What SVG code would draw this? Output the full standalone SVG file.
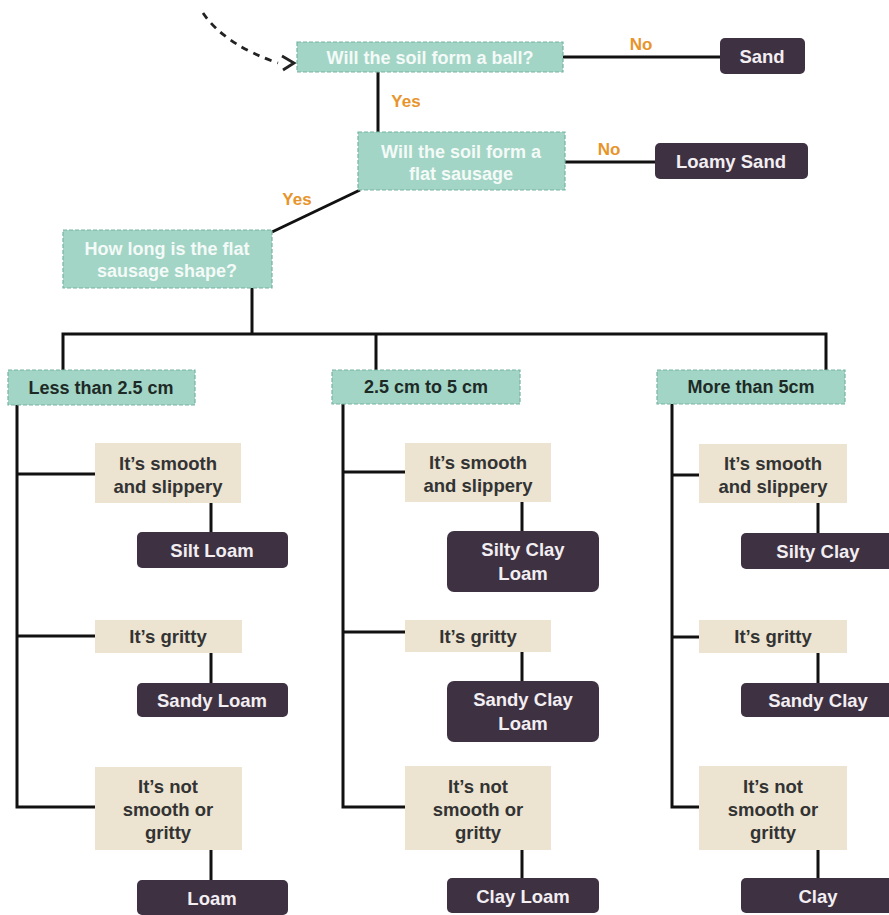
<svg xmlns="http://www.w3.org/2000/svg" width="889" height="915" viewBox="0 0 889 915">
<defs>
<style>
.q{fill:#a2d5c6;stroke:#76b4a2;stroke-width:1.2;stroke-dasharray:4 2}
.b{fill:#ece4d1}
.d{fill:#3e3142}
.ln{stroke:#111;stroke-width:3;fill:none}
text{font-family:"Liberation Sans",Arial,sans-serif;font-weight:bold;text-anchor:middle}
.qt{fill:#f4faf7;font-size:18px}
.ct{fill:#1e2a26;font-size:18px}
.bt{fill:#333;font-size:18.5px}
.dt{fill:#f2eef2;font-size:18.5px}
.lbl{fill:#e8942c;font-size:17px}
</style>
</defs>
<rect width="889" height="915" fill="#fff"/>
<g id="connectors">
<path d="M203,13 Q225,45 278,63" stroke="#222" stroke-width="2.8" fill="none" stroke-dasharray="7 6"/>
<path d="M282,56 L294,63 L283,70" stroke="#222" stroke-width="2.8" fill="none"/>
<line class="ln" x1="563" y1="57" x2="720" y2="57"/>
<line class="ln" x1="378" y1="72" x2="378" y2="132"/>
<line class="ln" x1="565" y1="162" x2="655" y2="162"/>
<line class="ln" x1="360" y1="190" x2="272" y2="232"/>
<line class="ln" x1="252" y1="288" x2="252" y2="334"/>
<polyline class="ln" points="63,372 63,334 826,334 826,372"/>
<line class="ln" x1="376" y1="334" x2="376" y2="372"/>
<polyline class="ln" points="17,405 17,807 95,807"/>
<line class="ln" x1="17" y1="474" x2="95" y2="474"/>
<line class="ln" x1="17" y1="636" x2="95" y2="636"/>
<line class="ln" x1="211" y1="503" x2="211" y2="532"/>
<line class="ln" x1="211" y1="653" x2="211" y2="683"/>
<line class="ln" x1="211" y1="850" x2="211" y2="880"/>
<polyline class="ln" points="343,404 343,807 405,807"/>
<line class="ln" x1="343" y1="472" x2="405" y2="472"/>
<line class="ln" x1="343" y1="632" x2="405" y2="632"/>
<line class="ln" x1="522" y1="502" x2="522" y2="531"/>
<line class="ln" x1="522" y1="652" x2="522" y2="681"/>
<line class="ln" x1="522" y1="850" x2="522" y2="878"/>
<polyline class="ln" points="672,404 672,807 699,807"/>
<line class="ln" x1="672" y1="475" x2="699" y2="475"/>
<line class="ln" x1="672" y1="637" x2="699" y2="637"/>
<line class="ln" x1="818" y1="503" x2="818" y2="533"/>
<line class="ln" x1="818" y1="653" x2="818" y2="683"/>
<line class="ln" x1="818" y1="850" x2="818" y2="878"/>
<text class="lbl" x="641" y="50">No</text>
<text class="lbl" x="406" y="107">Yes</text>
<text class="lbl" x="609" y="155">No</text>
<text class="lbl" x="297" y="205">Yes</text>
</g>
<g id="q1"><rect class="q" x="297" y="42" width="266" height="30"/><text class="qt" x="430" y="64">Will the soil form a ball?</text></g>
<g id="sand"><rect class="d" x="720" y="38" width="85" height="36" rx="5"/><text class="dt" x="762" y="63">Sand</text></g>
<g id="q2"><rect class="q" x="358" y="132" width="207" height="58"/><text class="qt" x="461" y="158">Will the soil form a</text><text class="qt" x="461" y="180">flat sausage</text></g>
<g id="loamysand"><rect class="d" x="655" y="143" width="153" height="36" rx="5"/><text class="dt" x="731" y="168">Loamy Sand</text></g>
<g id="q3"><rect class="q" x="63" y="230" width="209" height="58"/><text class="qt" x="167" y="255">How long is the flat</text><text class="qt" x="167" y="277">sausage shape?</text></g>
<g id="c1"><rect class="q" x="8" y="370" width="187" height="35"/><text class="ct" x="101" y="394">Less than 2.5 cm</text></g>
<g id="c2"><rect class="q" x="332" y="370" width="188" height="34"/><text class="ct" x="426" y="393">2.5 cm to 5 cm</text></g>
<g id="c3"><rect class="q" x="657" y="370" width="188" height="34"/><text class="ct" x="751" y="393">More than 5cm</text></g>
<g id="s1"><rect class="b" x="95" y="443" width="146" height="60"/><text class="bt" x="168" y="470">It’s smooth</text><text class="bt" x="168" y="493">and slippery</text></g>
<g id="siltloam"><rect class="d" x="137" y="532" width="151" height="36" rx="5"/><text class="dt" x="212" y="557">Silt Loam</text></g>
<g id="g1"><rect class="b" x="95" y="620" width="147" height="33"/><text class="bt" x="168" y="643">It’s gritty</text></g>
<g id="sandyloam"><rect class="d" x="137" y="683" width="151" height="34" rx="5"/><text class="dt" x="212" y="707">Sandy Loam</text></g>
<g id="n1"><rect class="b" x="95" y="767" width="147" height="83"/><text class="bt" x="168" y="793">It’s not</text><text class="bt" x="168" y="816">smooth or</text><text class="bt" x="168" y="839">gritty</text></g>
<g id="loam"><rect class="d" x="137" y="880" width="151" height="35" rx="5"/><text class="dt" x="212" y="905">Loam</text></g>
<g id="s2"><rect class="b" x="405" y="443" width="146" height="59"/><text class="bt" x="478" y="469">It’s smooth</text><text class="bt" x="478" y="492">and slippery</text></g>
<g id="siltyclayloam"><rect class="d" x="447" y="531" width="152" height="61" rx="7"/><text class="dt" x="523" y="556">Silty Clay</text><text class="dt" x="523" y="580">Loam</text></g>
<g id="g2"><rect class="b" x="405" y="620" width="146" height="32"/><text class="bt" x="478" y="643">It’s gritty</text></g>
<g id="sandyclayloam"><rect class="d" x="447" y="681" width="152" height="61" rx="7"/><text class="dt" x="523" y="706">Sandy Clay</text><text class="dt" x="523" y="730">Loam</text></g>
<g id="n2"><rect class="b" x="405" y="766" width="146" height="84"/><text class="bt" x="478" y="793">It’s not</text><text class="bt" x="478" y="816">smooth or</text><text class="bt" x="478" y="839">gritty</text></g>
<g id="clayloam"><rect class="d" x="447" y="878" width="152" height="35" rx="5"/><text class="dt" x="523" y="903">Clay Loam</text></g>
<g id="s3"><rect class="b" x="699" y="444" width="148" height="59"/><text class="bt" x="773" y="470">It’s smooth</text><text class="bt" x="773" y="493">and slippery</text></g>
<g id="siltyclay"><rect class="d" x="741" y="533" width="152" height="36" rx="5"/><text class="dt" x="818" y="558">Silty Clay</text></g>
<g id="g3"><rect class="b" x="699" y="620" width="148" height="33"/><text class="bt" x="773" y="643">It’s gritty</text></g>
<g id="sandyclay"><rect class="d" x="741" y="683" width="152" height="34" rx="5"/><text class="dt" x="818" y="707">Sandy Clay</text></g>
<g id="n3"><rect class="b" x="699" y="766" width="148" height="84"/><text class="bt" x="773" y="793">It’s not</text><text class="bt" x="773" y="816">smooth or</text><text class="bt" x="773" y="839">gritty</text></g>
<g id="clay"><rect class="d" x="741" y="878" width="152" height="35" rx="5"/><text class="dt" x="818" y="903">Clay</text></g>
</svg>
